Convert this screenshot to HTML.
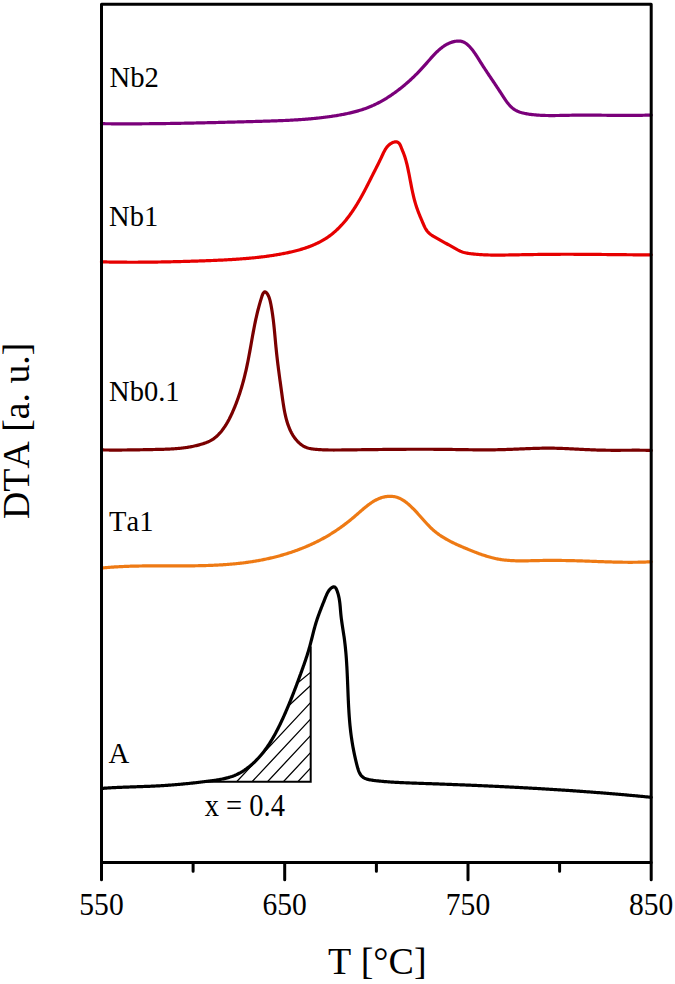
<!DOCTYPE html>
<html><head><meta charset="utf-8"><style>
html,body{margin:0;padding:0;background:#fff;}
body{width:675px;height:984px;overflow:hidden;}
svg{display:block;}
text{font-family:"Liberation Serif", serif;fill:#000;font-kerning:none;}
</style></head><body>
<svg width="675" height="984" viewBox="0 0 675 984">
<defs><clipPath id="hc"><path d="M200,781.8 L200.0,782.4 C201.7,782.1 206.7,781.3 210.0,780.8 C213.3,780.3 216.7,779.8 220.0,779.2 C223.3,778.6 226.7,777.9 230.0,777.0 C233.3,776.1 237.5,775.1 240.0,773.9 C242.5,772.7 243.3,771.4 245.0,770.0 C246.7,768.6 248.3,767.0 250.0,765.5 C251.7,764.0 253.3,762.8 255.0,761.2 C256.7,759.6 258.3,757.9 260.0,756.1 C261.7,754.3 263.3,752.6 265.0,750.4 C266.7,748.2 268.3,745.7 270.0,743.1 C271.7,740.5 273.3,738.1 275.0,735.0 C276.7,731.9 278.3,728.1 280.0,724.4 C281.7,720.7 283.6,716.2 285.0,713.0 C286.4,709.8 287.6,707.2 288.6,705.0 C289.6,702.8 290.3,702.5 291.2,700.0 C292.1,697.5 293.3,692.5 294.2,690.0 C295.1,687.5 295.6,686.8 296.3,685.0 C297.0,683.2 297.6,680.7 298.3,679.0 C299.1,677.3 300.0,676.5 300.8,675.0 C301.6,673.5 302.1,672.5 302.9,670.0 C303.7,667.5 304.8,662.5 305.4,660.0 C306.0,657.5 306.1,656.7 306.6,655.0 C307.1,653.3 307.8,651.4 308.5,650.0 C309.2,648.6 310.3,647.1 310.7,646.5 L310.7,781.8 Z"/></clipPath></defs>
<g fill="none" stroke-linejoin="round" stroke-linecap="round">
<path d="M101.50,123.69 L102.51,123.70 L103.51,123.71 L104.51,123.72 L105.51,123.73 L106.52,123.74 L107.52,123.75 L108.52,123.76 L109.53,123.76 L110.53,123.77 L111.53,123.78 L112.53,123.78 L113.54,123.79 L114.54,123.80 L115.54,123.80 L116.54,123.80 L117.54,123.81 L118.55,123.81 L119.55,123.81 L120.55,123.82 L121.55,123.82 L122.55,123.82 L123.56,123.82 L124.56,123.82 L125.56,123.82 L126.56,123.82 L127.56,123.82 L128.57,123.82 L129.57,123.82 L130.57,123.82 L131.57,123.82 L132.57,123.82 L133.57,123.81 L134.57,123.81 L135.58,123.81 L136.58,123.80 L137.58,123.80 L138.58,123.79 L139.58,123.79 L140.58,123.78 L141.58,123.78 L142.59,123.77 L143.59,123.76 L144.59,123.76 L145.59,123.75 L146.59,123.74 L147.59,123.73 L148.59,123.73 L149.59,123.72 L150.59,123.71 L151.59,123.70 L152.60,123.69 L153.60,123.68 L154.60,123.67 L155.60,123.66 L156.60,123.65 L157.60,123.64 L158.60,123.62 L159.60,123.61 L160.60,123.60 L161.60,123.59 L162.60,123.57 L163.60,123.56 L164.60,123.55 L165.61,123.53 L166.61,123.52 L167.61,123.50 L168.61,123.49 L169.61,123.48 L170.61,123.46 L171.61,123.44 L172.61,123.43 L173.61,123.41 L174.61,123.40 L175.61,123.38 L176.61,123.36 L177.61,123.35 L178.61,123.33 L179.61,123.31 L180.61,123.29 L181.62,123.27 L182.62,123.26 L183.62,123.24 L184.62,123.22 L185.62,123.20 L186.62,123.18 L187.62,123.16 L188.62,123.14 L189.62,123.12 L190.62,123.10 L191.62,123.08 L192.62,123.06 L193.62,123.04 L194.62,123.02 L195.62,122.99 L196.62,122.97 L197.62,122.95 L198.63,122.93 L199.63,122.91 L200.63,122.88 L201.63,122.86 L202.63,122.84 L203.63,122.82 L204.63,122.79 L205.63,122.77 L206.63,122.75 L207.63,122.72 L208.63,122.70 L209.63,122.68 L210.63,122.65 L211.63,122.63 L212.64,122.60 L213.64,122.58 L214.64,122.55 L215.64,122.53 L216.64,122.50 L217.64,122.48 L218.64,122.45 L219.64,122.43 L220.64,122.40 L221.64,122.38 L222.65,122.35 L223.65,122.32 L224.65,122.30 L225.65,122.27 L226.65,122.25 L227.65,122.22 L228.65,122.19 L229.65,122.17 L230.66,122.14 L231.66,122.11 L232.66,122.09 L233.66,122.06 L234.66,122.03 L235.66,122.00 L236.67,121.98 L237.67,121.95 L238.67,121.92 L239.67,121.90 L240.67,121.87 L241.67,121.84 L242.68,121.81 L243.68,121.78 L244.68,121.76 L245.68,121.73 L246.68,121.70 L247.69,121.67 L248.69,121.65 L249.69,121.62 L250.69,121.59 L251.69,121.56 L252.70,121.53 L253.70,121.50 L254.70,121.48 L255.70,121.45 L256.71,121.42 L257.71,121.39 L258.71,121.36 L259.71,121.33 L260.72,121.31 L261.72,121.28 L262.72,121.25 L263.73,121.22 L264.73,121.19 L265.73,121.16 L266.73,121.13 L267.74,121.10 L268.74,121.07 L269.74,121.04 L270.75,121.01 L271.75,120.97 L272.75,120.94 L273.75,120.91 L274.76,120.87 L275.76,120.84 L276.76,120.80 L277.77,120.76 L278.77,120.72 L279.77,120.69 L280.77,120.65 L281.77,120.60 L282.78,120.56 L283.78,120.52 L284.78,120.48 L285.78,120.43 L286.78,120.38 L287.79,120.34 L288.79,120.29 L289.79,120.24 L290.79,120.18 L291.79,120.13 L292.79,120.08 L293.79,120.02 L294.80,119.96 L295.80,119.90 L296.80,119.84 L297.80,119.78 L298.80,119.71 L299.80,119.65 L300.80,119.58 L301.80,119.51 L302.80,119.44 L303.79,119.36 L304.79,119.29 L305.79,119.21 L306.79,119.13 L307.79,119.05 L308.79,118.96 L309.78,118.88 L310.78,118.79 L311.78,118.70 L312.78,118.60 L313.77,118.51 L314.77,118.41 L315.77,118.31 L316.76,118.20 L317.76,118.10 L318.75,117.99 L319.75,117.88 L320.74,117.77 L321.74,117.65 L322.73,117.53 L323.73,117.41 L324.72,117.28 L325.71,117.16 L326.71,117.03 L327.70,116.89 L328.69,116.76 L329.68,116.62 L330.67,116.47 L331.66,116.33 L332.66,116.18 L333.65,116.03 L334.64,115.87 L335.63,115.71 L336.61,115.55 L337.60,115.39 L338.59,115.22 L339.58,115.04 L340.57,114.87 L341.55,114.69 L342.54,114.50 L343.52,114.31 L344.51,114.12 L345.49,113.92 L346.47,113.72 L347.45,113.51 L348.43,113.30 L349.41,113.08 L350.39,112.86 L351.36,112.63 L352.34,112.40 L353.31,112.15 L354.28,111.91 L355.25,111.65 L356.21,111.39 L357.18,111.13 L358.14,110.85 L359.10,110.57 L360.05,110.28 L361.01,109.99 L361.96,109.68 L362.91,109.37 L363.86,109.05 L364.80,108.73 L365.74,108.39 L366.68,108.05 L367.61,107.69 L368.54,107.33 L369.47,106.96 L370.39,106.58 L371.32,106.19 L372.23,105.79 L373.15,105.39 L374.06,104.97 L374.96,104.54 L375.87,104.11 L376.76,103.67 L377.66,103.21 L378.55,102.75 L379.44,102.29 L380.32,101.81 L381.20,101.33 L382.08,100.84 L382.95,100.34 L383.82,99.83 L384.68,99.32 L385.54,98.80 L386.40,98.28 L387.25,97.74 L388.10,97.21 L388.94,96.66 L389.78,96.11 L390.62,95.56 L391.45,94.99 L392.27,94.43 L393.10,93.86 L393.91,93.28 L394.73,92.70 L395.54,92.11 L396.34,91.52 L397.14,90.93 L397.94,90.33 L398.73,89.72 L399.52,89.12 L400.30,88.51 L401.08,87.89 L401.85,87.27 L402.62,86.65 L403.39,86.03 L404.15,85.40 L404.91,84.76 L405.66,84.12 L406.41,83.48 L407.16,82.83 L407.90,82.18 L408.64,81.53 L409.37,80.87 L410.11,80.20 L410.84,79.53 L411.56,78.86 L412.28,78.18 L413.00,77.50 L413.72,76.81 L414.43,76.12 L415.14,75.43 L415.85,74.72 L416.56,74.02 L417.26,73.31 L417.96,72.59 L418.66,71.87 L419.35,71.15 L420.05,70.42 L420.74,69.68 L421.43,68.94 L422.11,68.19 L422.80,67.44 L423.48,66.69 L424.16,65.93 L424.84,65.16 L425.52,64.39 L426.20,63.61 L426.87,62.84 L427.55,62.06 L428.23,61.28 L428.91,60.50 L429.59,59.72 L430.27,58.94 L430.95,58.17 L431.64,57.40 L432.33,56.64 L433.02,55.88 L433.72,55.13 L434.42,54.39 L435.13,53.66 L435.84,52.93 L436.56,52.22 L437.29,51.52 L438.02,50.84 L438.76,50.17 L439.51,49.51 L440.26,48.87 L441.03,48.25 L441.80,47.64 L442.58,47.05 L443.38,46.49 L444.18,45.94 L445.00,45.42 L445.82,44.92 L446.66,44.44 L447.51,43.99 L448.38,43.56 L449.26,43.16 L450.15,42.79 L451.05,42.45 L451.97,42.14 L452.91,41.86 L453.86,41.61 L454.81,41.40 L455.78,41.23 L456.74,41.11 L457.71,41.04 L458.67,41.02 L459.62,41.06 L460.55,41.17 L461.47,41.34 L462.37,41.58 L463.24,41.90 L464.09,42.29 L464.91,42.74 L465.72,43.25 L466.50,43.81 L467.26,44.42 L468.00,45.07 L468.72,45.75 L469.43,46.47 L470.12,47.21 L470.79,47.97 L471.44,48.74 L472.08,49.53 L472.71,50.34 L473.33,51.15 L473.93,51.98 L474.52,52.81 L475.10,53.66 L475.68,54.51 L476.24,55.37 L476.80,56.23 L477.35,57.09 L477.90,57.96 L478.45,58.83 L478.99,59.70 L479.53,60.56 L480.07,61.42 L480.61,62.28 L481.14,63.13 L481.68,63.98 L482.22,64.83 L482.76,65.67 L483.30,66.51 L483.84,67.34 L484.39,68.17 L484.93,69.00 L485.47,69.82 L486.01,70.65 L486.55,71.47 L487.10,72.29 L487.64,73.10 L488.18,73.92 L488.73,74.74 L489.27,75.55 L489.82,76.37 L490.37,77.18 L490.91,77.99 L491.46,78.81 L492.01,79.62 L492.56,80.44 L493.11,81.26 L493.66,82.08 L494.21,82.90 L494.76,83.72 L495.31,84.54 L495.86,85.37 L496.41,86.20 L496.97,87.03 L497.52,87.87 L498.08,88.71 L498.63,89.55 L499.19,90.40 L499.75,91.25 L500.31,92.11 L500.87,92.97 L501.43,93.84 L501.99,94.71 L502.55,95.59 L503.11,96.46 L503.68,97.34 L504.26,98.21 L504.84,99.08 L505.43,99.94 L506.02,100.79 L506.63,101.63 L507.24,102.45 L507.87,103.25 L508.51,104.04 L509.17,104.81 L509.84,105.55 L510.53,106.26 L511.23,106.95 L511.95,107.61 L512.69,108.23 L513.45,108.82 L514.24,109.37 L515.04,109.89 L515.87,110.36 L516.72,110.81 L517.58,111.21 L518.46,111.59 L519.36,111.94 L520.27,112.26 L521.20,112.56 L522.13,112.83 L523.08,113.07 L524.04,113.30 L525.01,113.51 L525.98,113.69 L526.96,113.87 L527.95,114.03 L528.93,114.18 L529.93,114.31 L530.92,114.44 L531.91,114.56 L532.90,114.67 L533.90,114.77 L534.89,114.87 L535.89,114.96 L536.88,115.04 L537.88,115.11 L538.88,115.18 L539.88,115.24 L540.88,115.29 L541.88,115.34 L542.88,115.38 L543.88,115.42 L544.88,115.45 L545.88,115.48 L546.89,115.50 L547.89,115.52 L548.89,115.53 L549.90,115.54 L550.90,115.54 L551.91,115.55 L552.91,115.54 L553.92,115.54 L554.92,115.53 L555.93,115.52 L556.93,115.51 L557.94,115.50 L558.95,115.48 L559.95,115.46 L560.96,115.44 L561.96,115.42 L562.97,115.40 L563.98,115.38 L564.98,115.36 L565.99,115.34 L567.00,115.32 L568.00,115.30 L569.01,115.28 L570.01,115.26 L571.02,115.24 L572.02,115.22 L573.03,115.21 L574.03,115.19 L575.04,115.18 L576.04,115.17 L577.05,115.16 L578.05,115.15 L579.05,115.15 L580.06,115.14 L581.06,115.14 L582.06,115.13 L583.07,115.13 L584.07,115.13 L585.07,115.13 L586.07,115.13 L587.08,115.13 L588.08,115.13 L589.08,115.14 L590.08,115.14 L591.08,115.14 L592.09,115.15 L593.09,115.15 L594.09,115.16 L595.09,115.17 L596.09,115.18 L597.09,115.18 L598.09,115.19 L599.09,115.20 L600.10,115.21 L601.10,115.22 L602.10,115.23 L603.10,115.24 L604.10,115.25 L605.10,115.26 L606.10,115.27 L607.10,115.28 L608.10,115.29 L609.10,115.30 L610.10,115.31 L611.10,115.32 L612.10,115.33 L613.11,115.34 L614.11,115.34 L615.11,115.35 L616.11,115.36 L617.11,115.37 L618.11,115.38 L619.11,115.38 L620.11,115.39 L621.11,115.39 L622.12,115.40 L623.12,115.40 L624.12,115.41 L625.12,115.41 L626.12,115.41 L627.12,115.41 L628.13,115.41 L629.13,115.41 L630.13,115.41 L631.13,115.40 L632.14,115.40 L633.14,115.39 L634.14,115.39 L635.15,115.38 L636.15,115.37 L637.15,115.36 L638.16,115.35 L639.16,115.33 L640.17,115.32 L641.17,115.30 L642.18,115.29 L643.18,115.27 L644.19,115.25 L645.19,115.22 L646.20,115.20 L647.20,115.17 L648.21,115.15 L649.22,115.12 L650.23,115.08 L651.23,115.05" stroke="#7a007a" stroke-width="3.2"/>
<path d="M101.44,261.85 L102.44,261.88 L103.45,261.90 L104.45,261.93 L105.46,261.95 L106.46,261.97 L107.46,261.99 L108.47,262.01 L109.47,262.03 L110.47,262.05 L111.48,262.06 L112.48,262.08 L113.48,262.10 L114.49,262.11 L115.49,262.13 L116.49,262.14 L117.49,262.15 L118.50,262.16 L119.50,262.17 L120.50,262.18 L121.50,262.19 L122.50,262.20 L123.51,262.21 L124.51,262.21 L125.51,262.22 L126.51,262.22 L127.51,262.23 L128.51,262.23 L129.52,262.23 L130.52,262.24 L131.52,262.24 L132.52,262.24 L133.52,262.24 L134.52,262.24 L135.52,262.23 L136.52,262.23 L137.52,262.23 L138.52,262.22 L139.52,262.22 L140.52,262.22 L141.52,262.21 L142.53,262.20 L143.53,262.20 L144.53,262.19 L145.53,262.18 L146.53,262.17 L147.53,262.16 L148.53,262.15 L149.53,262.14 L150.53,262.13 L151.53,262.12 L152.53,262.10 L153.53,262.09 L154.53,262.08 L155.53,262.06 L156.53,262.05 L157.53,262.03 L158.53,262.02 L159.53,262.00 L160.53,261.98 L161.53,261.96 L162.53,261.95 L163.53,261.93 L164.53,261.91 L165.53,261.89 L166.53,261.87 L167.53,261.85 L168.53,261.82 L169.53,261.80 L170.54,261.78 L171.54,261.76 L172.54,261.73 L173.54,261.71 L174.54,261.69 L175.54,261.66 L176.54,261.64 L177.54,261.61 L178.54,261.59 L179.55,261.56 L180.55,261.53 L181.55,261.51 L182.55,261.48 L183.55,261.45 L184.55,261.42 L185.56,261.39 L186.56,261.37 L187.56,261.34 L188.56,261.31 L189.56,261.28 L190.57,261.25 L191.57,261.22 L192.57,261.18 L193.58,261.15 L194.58,261.12 L195.58,261.09 L196.59,261.06 L197.59,261.03 L198.59,260.99 L199.60,260.96 L200.60,260.93 L201.60,260.89 L202.61,260.86 L203.61,260.82 L204.62,260.79 L205.62,260.75 L206.62,260.71 L207.63,260.68 L208.63,260.64 L209.64,260.60 L210.64,260.56 L211.64,260.52 L212.65,260.48 L213.65,260.44 L214.65,260.40 L215.66,260.35 L216.66,260.31 L217.66,260.26 L218.67,260.22 L219.67,260.17 L220.67,260.12 L221.67,260.08 L222.67,260.03 L223.68,259.98 L224.68,259.92 L225.68,259.87 L226.68,259.82 L227.68,259.76 L228.68,259.71 L229.68,259.65 L230.68,259.59 L231.68,259.53 L232.67,259.47 L233.67,259.41 L234.67,259.34 L235.67,259.28 L236.66,259.21 L237.66,259.14 L238.65,259.07 L239.65,259.00 L240.64,258.93 L241.64,258.86 L242.63,258.78 L243.62,258.70 L244.62,258.62 L245.61,258.54 L246.60,258.46 L247.59,258.38 L248.58,258.29 L249.57,258.20 L250.56,258.11 L251.55,258.02 L252.54,257.92 L253.53,257.82 L254.52,257.73 L255.51,257.62 L256.50,257.52 L257.49,257.41 L258.48,257.30 L259.46,257.19 L260.45,257.08 L261.44,256.96 L262.43,256.84 L263.41,256.72 L264.40,256.59 L265.39,256.47 L266.38,256.33 L267.36,256.20 L268.35,256.06 L269.34,255.92 L270.33,255.78 L271.31,255.63 L272.30,255.48 L273.29,255.33 L274.28,255.17 L275.26,255.01 L276.25,254.85 L277.24,254.68 L278.23,254.51 L279.22,254.34 L280.20,254.16 L281.19,253.98 L282.18,253.79 L283.17,253.60 L284.16,253.41 L285.15,253.21 L286.14,253.01 L287.13,252.81 L288.12,252.60 L289.11,252.38 L290.10,252.16 L291.09,251.94 L292.08,251.71 L293.07,251.47 L294.05,251.23 L295.04,250.99 L296.02,250.74 L297.00,250.48 L297.98,250.22 L298.96,249.95 L299.93,249.67 L300.91,249.39 L301.88,249.10 L302.84,248.80 L303.81,248.50 L304.77,248.19 L305.73,247.87 L306.68,247.54 L307.63,247.21 L308.58,246.87 L309.52,246.52 L310.46,246.16 L311.39,245.79 L312.32,245.42 L313.24,245.04 L314.16,244.64 L315.08,244.24 L315.99,243.83 L316.89,243.41 L317.79,242.98 L318.68,242.54 L319.57,242.09 L320.44,241.63 L321.32,241.16 L322.18,240.68 L323.04,240.19 L323.90,239.68 L324.74,239.17 L325.58,238.65 L326.41,238.11 L327.23,237.56 L328.05,237.00 L328.86,236.43 L329.66,235.85 L330.45,235.26 L331.23,234.66 L332.01,234.04 L332.78,233.42 L333.54,232.79 L334.29,232.14 L335.04,231.49 L335.78,230.83 L336.51,230.16 L337.24,229.47 L337.96,228.78 L338.67,228.09 L339.37,227.38 L340.07,226.67 L340.76,225.94 L341.44,225.21 L342.12,224.48 L342.79,223.73 L343.45,222.98 L344.11,222.22 L344.76,221.45 L345.40,220.68 L346.04,219.90 L346.67,219.12 L347.29,218.33 L347.91,217.54 L348.52,216.74 L349.12,215.93 L349.72,215.12 L350.32,214.31 L350.90,213.49 L351.48,212.66 L352.06,211.84 L352.63,211.00 L353.19,210.17 L353.75,209.33 L354.30,208.49 L354.84,207.65 L355.39,206.80 L355.92,205.95 L356.45,205.10 L356.98,204.24 L357.50,203.38 L358.01,202.52 L358.52,201.66 L359.03,200.80 L359.53,199.93 L360.03,199.06 L360.52,198.19 L361.01,197.32 L361.50,196.44 L361.99,195.56 L362.47,194.69 L362.94,193.81 L363.42,192.92 L363.89,192.04 L364.36,191.16 L364.83,190.27 L365.29,189.38 L365.75,188.50 L366.21,187.61 L366.67,186.72 L367.13,185.83 L367.59,184.94 L368.04,184.05 L368.49,183.15 L368.94,182.26 L369.40,181.37 L369.85,180.47 L370.30,179.58 L370.75,178.69 L371.19,177.79 L371.64,176.90 L372.09,176.01 L372.54,175.11 L372.99,174.22 L373.44,173.33 L373.89,172.44 L374.35,171.55 L374.80,170.66 L375.25,169.76 L375.71,168.87 L376.16,167.98 L376.61,167.09 L377.06,166.20 L377.51,165.31 L377.96,164.41 L378.40,163.52 L378.85,162.62 L379.29,161.72 L379.73,160.82 L380.17,159.92 L380.60,159.01 L381.03,158.11 L381.46,157.20 L381.88,156.29 L382.30,155.37 L382.72,154.46 L383.15,153.55 L383.58,152.65 L384.02,151.76 L384.49,150.89 L384.97,150.03 L385.47,149.18 L386.00,148.37 L386.57,147.58 L387.16,146.81 L387.80,146.08 L388.48,145.39 L389.20,144.73 L389.98,144.12 L390.80,143.55 L391.69,143.03 L392.63,142.57 L393.60,142.19 L394.59,141.92 L395.55,141.79 L396.48,141.82 L397.35,142.05 L398.15,142.48 L398.86,143.09 L399.48,143.83 L400.02,144.68 L400.48,145.59 L400.89,146.55 L401.26,147.52 L401.63,148.48 L402.01,149.42 L402.39,150.35 L402.78,151.26 L403.15,152.17 L403.51,153.09 L403.86,154.02 L404.20,154.95 L404.52,155.88 L404.83,156.82 L405.13,157.77 L405.42,158.72 L405.70,159.67 L405.97,160.63 L406.23,161.59 L406.48,162.55 L406.73,163.52 L406.97,164.49 L407.20,165.46 L407.42,166.43 L407.64,167.41 L407.86,168.39 L408.07,169.37 L408.27,170.35 L408.47,171.33 L408.67,172.31 L408.87,173.30 L409.07,174.28 L409.26,175.27 L409.45,176.25 L409.64,177.24 L409.83,178.22 L410.01,179.21 L410.20,180.19 L410.39,181.18 L410.58,182.17 L410.77,183.15 L410.95,184.14 L411.15,185.12 L411.34,186.11 L411.53,187.09 L411.73,188.08 L411.93,189.06 L412.13,190.04 L412.34,191.02 L412.55,192.00 L412.76,192.98 L412.98,193.96 L413.20,194.93 L413.43,195.91 L413.66,196.88 L413.90,197.85 L414.15,198.82 L414.40,199.79 L414.66,200.75 L414.93,201.72 L415.20,202.68 L415.48,203.63 L415.77,204.59 L416.07,205.54 L416.37,206.49 L416.69,207.44 L417.02,208.39 L417.35,209.33 L417.69,210.27 L418.04,211.21 L418.40,212.14 L418.76,213.07 L419.13,214.01 L419.50,214.94 L419.88,215.86 L420.26,216.79 L420.65,217.71 L421.04,218.64 L421.43,219.56 L421.82,220.48 L422.21,221.40 L422.61,222.32 L423.01,223.24 L423.40,224.16 L423.80,225.07 L424.21,225.98 L424.63,226.88 L425.07,227.76 L425.53,228.62 L426.03,229.46 L426.56,230.28 L427.13,231.06 L427.75,231.80 L428.41,232.51 L429.12,233.19 L429.87,233.83 L430.65,234.45 L431.46,235.04 L432.30,235.61 L433.15,236.16 L434.02,236.69 L434.90,237.21 L435.78,237.73 L436.66,238.23 L437.54,238.73 L438.41,239.22 L439.29,239.71 L440.16,240.20 L441.03,240.68 L441.91,241.16 L442.78,241.63 L443.65,242.11 L444.52,242.58 L445.39,243.06 L446.26,243.53 L447.13,244.01 L448.00,244.49 L448.87,244.96 L449.75,245.44 L450.62,245.93 L451.50,246.42 L452.37,246.91 L453.25,247.41 L454.13,247.91 L455.02,248.41 L455.90,248.91 L456.80,249.41 L457.69,249.89 L458.60,250.35 L459.51,250.79 L460.42,251.20 L461.35,251.58 L462.29,251.92 L463.23,252.22 L464.18,252.49 L465.14,252.73 L466.11,252.95 L467.08,253.14 L468.05,253.31 L469.03,253.46 L470.02,253.60 L471.00,253.72 L471.99,253.84 L472.97,253.95 L473.96,254.06 L474.95,254.16 L475.94,254.25 L476.93,254.34 L477.92,254.42 L478.92,254.50 L479.91,254.57 L480.90,254.64 L481.90,254.70 L482.89,254.75 L483.89,254.80 L484.89,254.85 L485.88,254.89 L486.88,254.93 L487.88,254.96 L488.88,254.99 L489.88,255.01 L490.88,255.03 L491.88,255.05 L492.88,255.07 L493.89,255.08 L494.89,255.09 L495.89,255.09 L496.89,255.09 L497.90,255.09 L498.90,255.09 L499.90,255.09 L500.91,255.08 L501.91,255.07 L502.91,255.06 L503.92,255.05 L504.92,255.04 L505.93,255.02 L506.93,255.00 L507.94,254.99 L508.94,254.97 L509.95,254.95 L510.95,254.93 L511.95,254.91 L512.96,254.89 L513.96,254.87 L514.97,254.85 L515.97,254.83 L516.97,254.82 L517.98,254.80 L518.98,254.78 L519.98,254.76 L520.99,254.74 L521.99,254.72 L522.99,254.70 L523.99,254.69 L525.00,254.67 L526.00,254.65 L527.00,254.64 L528.00,254.62 L529.00,254.60 L530.01,254.59 L531.01,254.57 L532.01,254.55 L533.01,254.54 L534.01,254.52 L535.01,254.51 L536.01,254.50 L537.01,254.48 L538.02,254.47 L539.02,254.46 L540.02,254.44 L541.02,254.43 L542.02,254.42 L543.02,254.41 L544.02,254.40 L545.02,254.38 L546.02,254.37 L547.02,254.36 L548.02,254.35 L549.02,254.35 L550.02,254.34 L551.02,254.33 L552.03,254.32 L553.03,254.31 L554.03,254.31 L555.03,254.30 L556.03,254.30 L557.03,254.29 L558.03,254.29 L559.03,254.28 L560.03,254.28 L561.03,254.27 L562.03,254.27 L563.04,254.27 L564.04,254.27 L565.04,254.27 L566.04,254.27 L567.04,254.27 L568.04,254.27 L569.04,254.27 L570.04,254.27 L571.05,254.27 L572.05,254.27 L573.05,254.27 L574.05,254.28 L575.05,254.28 L576.05,254.28 L577.06,254.29 L578.06,254.29 L579.06,254.30 L580.06,254.30 L581.06,254.31 L582.07,254.31 L583.07,254.32 L584.07,254.33 L585.07,254.33 L586.07,254.34 L587.08,254.35 L588.08,254.35 L589.08,254.36 L590.08,254.37 L591.09,254.38 L592.09,254.39 L593.09,254.39 L594.09,254.40 L595.09,254.41 L596.10,254.42 L597.10,254.43 L598.10,254.44 L599.10,254.45 L600.11,254.46 L601.11,254.47 L602.11,254.48 L603.11,254.49 L604.11,254.50 L605.12,254.51 L606.12,254.52 L607.12,254.53 L608.12,254.54 L609.13,254.55 L610.13,254.56 L611.13,254.57 L612.13,254.58 L613.14,254.59 L614.14,254.60 L615.14,254.61 L616.14,254.62 L617.14,254.63 L618.15,254.64 L619.15,254.65 L620.15,254.66 L621.15,254.67 L622.15,254.68 L623.16,254.69 L624.16,254.70 L625.16,254.71 L626.16,254.72 L627.16,254.73 L628.16,254.74 L629.17,254.75 L630.17,254.76 L631.17,254.76 L632.17,254.77 L633.17,254.78 L634.17,254.79 L635.18,254.79 L636.18,254.80 L637.18,254.81 L638.18,254.82 L639.18,254.82 L640.18,254.83 L641.18,254.83 L642.18,254.84 L643.18,254.84 L644.19,254.85 L645.19,254.85 L646.19,254.86 L647.19,254.86 L648.19,254.86 L649.19,254.87 L650.19,254.87 L651.19,254.87" stroke="#e60000" stroke-width="3.2"/>
<path d="M101.49,449.94 L102.49,449.95 L103.50,449.97 L104.50,449.98 L105.50,450.00 L106.51,450.01 L107.51,450.02 L108.51,450.02 L109.51,450.03 L110.52,450.04 L111.52,450.04 L112.52,450.05 L113.52,450.05 L114.52,450.05 L115.53,450.05 L116.53,450.05 L117.53,450.05 L118.53,450.04 L119.53,450.04 L120.53,450.03 L121.53,450.03 L122.53,450.02 L123.53,450.01 L124.53,450.00 L125.54,449.99 L126.54,449.98 L127.54,449.97 L128.54,449.96 L129.54,449.95 L130.54,449.93 L131.54,449.92 L132.54,449.91 L133.54,449.89 L134.54,449.88 L135.54,449.86 L136.54,449.84 L137.54,449.83 L138.54,449.81 L139.54,449.79 L140.54,449.77 L141.54,449.75 L142.54,449.73 L143.54,449.71 L144.55,449.69 L145.55,449.67 L146.55,449.65 L147.55,449.63 L148.55,449.61 L149.55,449.59 L150.55,449.57 L151.56,449.55 L152.56,449.53 L153.56,449.51 L154.56,449.49 L155.56,449.47 L156.57,449.45 L157.57,449.43 L158.57,449.41 L159.58,449.38 L160.58,449.36 L161.58,449.33 L162.58,449.31 L163.59,449.28 L164.59,449.25 L165.59,449.21 L166.59,449.18 L167.59,449.14 L168.60,449.09 L169.60,449.05 L170.60,449.00 L171.60,448.94 L172.60,448.88 L173.59,448.82 L174.59,448.75 L175.59,448.68 L176.59,448.60 L177.58,448.52 L178.58,448.43 L179.57,448.33 L180.57,448.23 L181.56,448.12 L182.55,448.01 L183.54,447.89 L184.53,447.76 L185.52,447.62 L186.51,447.48 L187.50,447.33 L188.48,447.17 L189.46,447.00 L190.45,446.82 L191.43,446.64 L192.41,446.45 L193.39,446.24 L194.37,446.03 L195.34,445.81 L196.31,445.58 L197.29,445.34 L198.26,445.09 L199.23,444.84 L200.19,444.57 L201.16,444.29 L202.12,443.99 L203.08,443.69 L204.04,443.38 L205.00,443.05 L205.94,442.71 L206.88,442.34 L207.81,441.96 L208.73,441.56 L209.63,441.13 L210.52,440.68 L211.39,440.20 L212.24,439.69 L213.08,439.15 L213.89,438.58 L214.68,437.98 L215.46,437.36 L216.22,436.72 L216.96,436.05 L217.68,435.36 L218.38,434.66 L219.07,433.93 L219.75,433.19 L220.40,432.44 L221.05,431.67 L221.68,430.90 L222.29,430.11 L222.89,429.31 L223.48,428.51 L224.06,427.69 L224.62,426.87 L225.17,426.04 L225.71,425.20 L226.24,424.35 L226.75,423.49 L227.26,422.63 L227.76,421.77 L228.24,420.89 L228.72,420.01 L229.19,419.13 L229.64,418.24 L230.09,417.34 L230.54,416.44 L230.97,415.54 L231.40,414.63 L231.82,413.72 L232.23,412.80 L232.64,411.89 L233.04,410.97 L233.44,410.05 L233.83,409.13 L234.22,408.20 L234.60,407.28 L234.98,406.35 L235.35,405.42 L235.72,404.49 L236.08,403.56 L236.43,402.62 L236.79,401.69 L237.14,400.75 L237.48,399.81 L237.82,398.87 L238.15,397.93 L238.48,396.99 L238.81,396.04 L239.13,395.09 L239.44,394.15 L239.75,393.20 L240.06,392.25 L240.37,391.30 L240.67,390.34 L240.96,389.39 L241.25,388.43 L241.54,387.47 L241.82,386.52 L242.10,385.56 L242.38,384.60 L242.65,383.63 L242.92,382.67 L243.18,381.71 L243.44,380.74 L243.70,379.77 L243.95,378.81 L244.20,377.84 L244.44,376.87 L244.69,375.90 L244.93,374.93 L245.16,373.95 L245.39,372.98 L245.62,372.00 L245.85,371.03 L246.07,370.05 L246.29,369.07 L246.51,368.09 L246.72,367.12 L246.93,366.13 L247.14,365.15 L247.34,364.17 L247.54,363.19 L247.74,362.21 L247.94,361.22 L248.14,360.24 L248.33,359.25 L248.52,358.27 L248.71,357.28 L248.90,356.30 L249.08,355.31 L249.27,354.32 L249.45,353.33 L249.63,352.35 L249.81,351.36 L249.99,350.37 L250.17,349.38 L250.34,348.40 L250.52,347.41 L250.70,346.42 L250.87,345.43 L251.05,344.44 L251.22,343.46 L251.40,342.47 L251.57,341.48 L251.75,340.50 L251.92,339.51 L252.10,338.52 L252.28,337.54 L252.45,336.55 L252.63,335.57 L252.81,334.58 L252.99,333.60 L253.17,332.62 L253.35,331.64 L253.54,330.65 L253.72,329.67 L253.91,328.69 L254.10,327.72 L254.29,326.74 L254.48,325.76 L254.68,324.78 L254.87,323.81 L255.07,322.84 L255.27,321.86 L255.48,320.89 L255.69,319.92 L255.90,318.95 L256.11,317.98 L256.33,317.02 L256.54,316.05 L256.77,315.08 L256.99,314.12 L257.23,313.15 L257.46,312.18 L257.70,311.22 L257.94,310.25 L258.19,309.27 L258.45,308.30 L258.70,307.32 L258.97,306.35 L259.24,305.37 L259.51,304.38 L259.79,303.39 L260.08,302.40 L260.37,301.41 L260.67,300.41 L260.98,299.40 L261.29,298.40 L261.61,297.38 L261.94,296.36 L262.28,295.35 L262.64,294.39 L263.05,293.52 L263.51,292.79 L264.04,292.24 L264.63,291.91 L265.24,291.88 L265.86,292.15 L266.46,292.68 L267.04,293.40 L267.58,294.24 L268.07,295.13 L268.52,296.05 L268.91,296.98 L269.27,297.93 L269.58,298.88 L269.86,299.85 L270.12,300.83 L270.35,301.81 L270.56,302.79 L270.76,303.78 L270.96,304.77 L271.14,305.76 L271.32,306.75 L271.50,307.75 L271.67,308.74 L271.83,309.73 L271.99,310.72 L272.15,311.71 L272.30,312.70 L272.45,313.70 L272.59,314.69 L272.73,315.68 L272.86,316.68 L272.99,317.67 L273.12,318.66 L273.25,319.66 L273.37,320.65 L273.48,321.64 L273.60,322.64 L273.71,323.63 L273.82,324.63 L273.93,325.62 L274.03,326.61 L274.14,327.61 L274.24,328.60 L274.34,329.60 L274.43,330.59 L274.53,331.59 L274.63,332.58 L274.72,333.58 L274.81,334.57 L274.91,335.57 L275.00,336.57 L275.09,337.56 L275.18,338.56 L275.27,339.55 L275.36,340.55 L275.46,341.54 L275.55,342.54 L275.64,343.53 L275.73,344.53 L275.83,345.53 L275.92,346.52 L276.02,347.52 L276.12,348.51 L276.22,349.51 L276.32,350.51 L276.42,351.50 L276.53,352.50 L276.63,353.49 L276.74,354.49 L276.85,355.48 L276.96,356.48 L277.08,357.48 L277.19,358.47 L277.31,359.47 L277.42,360.46 L277.54,361.46 L277.66,362.45 L277.78,363.45 L277.90,364.44 L278.03,365.44 L278.15,366.43 L278.28,367.43 L278.40,368.42 L278.53,369.42 L278.66,370.41 L278.79,371.41 L278.92,372.40 L279.05,373.40 L279.18,374.39 L279.31,375.38 L279.45,376.38 L279.58,377.37 L279.71,378.36 L279.85,379.36 L279.98,380.35 L280.12,381.34 L280.26,382.33 L280.39,383.33 L280.53,384.32 L280.67,385.31 L280.80,386.30 L280.94,387.29 L281.08,388.29 L281.22,389.28 L281.35,390.27 L281.49,391.26 L281.63,392.25 L281.77,393.24 L281.90,394.23 L282.04,395.22 L282.18,396.21 L282.31,397.20 L282.45,398.19 L282.59,399.17 L282.73,400.16 L282.87,401.15 L283.01,402.14 L283.16,403.12 L283.31,404.11 L283.46,405.09 L283.62,406.08 L283.78,407.06 L283.94,408.05 L284.12,409.03 L284.29,410.01 L284.48,410.99 L284.67,411.97 L284.87,412.95 L285.07,413.93 L285.29,414.91 L285.51,415.89 L285.74,416.86 L285.99,417.84 L286.24,418.81 L286.50,419.79 L286.77,420.76 L287.06,421.73 L287.36,422.69 L287.67,423.66 L287.99,424.62 L288.32,425.57 L288.67,426.52 L289.04,427.46 L289.42,428.39 L289.82,429.32 L290.23,430.24 L290.65,431.14 L291.10,432.04 L291.56,432.93 L292.04,433.80 L292.54,434.67 L293.06,435.52 L293.60,436.35 L294.16,437.18 L294.73,437.98 L295.33,438.77 L295.95,439.55 L296.60,440.30 L297.26,441.04 L297.95,441.76 L298.66,442.46 L299.39,443.13 L300.15,443.78 L300.92,444.39 L301.72,444.98 L302.54,445.53 L303.38,446.04 L304.24,446.51 L305.13,446.95 L306.03,447.34 L306.95,447.68 L307.89,447.98 L308.85,448.24 L309.82,448.47 L310.81,448.67 L311.80,448.83 L312.80,448.98 L313.81,449.11 L314.82,449.22 L315.83,449.32 L316.84,449.41 L317.84,449.49 L318.85,449.57 L319.86,449.64 L320.86,449.70 L321.87,449.76 L322.88,449.81 L323.88,449.85 L324.88,449.89 L325.89,449.92 L326.89,449.95 L327.89,449.97 L328.89,449.99 L329.90,450.00 L330.90,450.01 L331.90,450.02 L332.90,450.02 L333.90,450.03 L334.90,450.02 L335.90,450.02 L336.90,450.01 L337.90,450.01 L338.90,450.00 L339.90,449.99 L340.90,449.98 L341.90,449.97 L342.90,449.95 L343.90,449.94 L344.90,449.93 L345.90,449.92 L346.90,449.91 L347.90,449.90 L348.90,449.88 L349.90,449.87 L350.90,449.86 L351.90,449.85 L352.90,449.83 L353.90,449.82 L354.90,449.81 L355.90,449.80 L356.90,449.78 L357.90,449.77 L358.90,449.76 L359.90,449.75 L360.90,449.73 L361.90,449.72 L362.90,449.71 L363.90,449.70 L364.90,449.68 L365.90,449.67 L366.90,449.66 L367.91,449.65 L368.91,449.63 L369.91,449.62 L370.91,449.61 L371.91,449.60 L372.91,449.59 L373.91,449.57 L374.91,449.56 L375.91,449.55 L376.91,449.54 L377.91,449.53 L378.91,449.52 L379.92,449.51 L380.92,449.49 L381.92,449.48 L382.92,449.47 L383.92,449.46 L384.92,449.45 L385.92,449.44 L386.92,449.43 L387.93,449.42 L388.93,449.41 L389.93,449.40 L390.93,449.39 L391.93,449.38 L392.93,449.37 L393.93,449.36 L394.93,449.36 L395.94,449.35 L396.94,449.34 L397.94,449.33 L398.94,449.32 L399.94,449.32 L400.94,449.31 L401.94,449.30 L402.95,449.30 L403.95,449.29 L404.95,449.28 L405.95,449.28 L406.95,449.27 L407.95,449.27 L408.96,449.26 L409.96,449.26 L410.96,449.26 L411.96,449.25 L412.96,449.25 L413.96,449.25 L414.96,449.24 L415.97,449.24 L416.97,449.24 L417.97,449.24 L418.97,449.24 L419.97,449.24 L420.97,449.24 L421.98,449.24 L422.98,449.24 L423.98,449.24 L424.98,449.24 L425.98,449.24 L426.98,449.25 L427.98,449.25 L428.99,449.25 L429.99,449.26 L430.99,449.26 L431.99,449.26 L432.99,449.27 L433.99,449.28 L434.99,449.28 L436.00,449.29 L437.00,449.30 L438.00,449.30 L439.00,449.31 L440.00,449.32 L441.00,449.33 L442.00,449.34 L443.01,449.35 L444.01,449.36 L445.01,449.37 L446.01,449.39 L447.01,449.40 L448.01,449.41 L449.01,449.43 L450.02,449.44 L451.02,449.45 L452.02,449.47 L453.02,449.48 L454.02,449.50 L455.02,449.52 L456.02,449.53 L457.02,449.55 L458.02,449.56 L459.03,449.58 L460.03,449.60 L461.03,449.61 L462.03,449.63 L463.03,449.64 L464.03,449.66 L465.03,449.67 L466.03,449.69 L467.03,449.70 L468.03,449.72 L469.04,449.73 L470.04,449.74 L471.04,449.76 L472.04,449.77 L473.04,449.78 L474.04,449.79 L475.04,449.80 L476.04,449.81 L477.04,449.82 L478.04,449.83 L479.05,449.83 L480.05,449.84 L481.05,449.84 L482.05,449.85 L483.05,449.85 L484.05,449.85 L485.05,449.85 L486.05,449.85 L487.05,449.85 L488.05,449.84 L489.05,449.84 L490.06,449.83 L491.06,449.82 L492.06,449.82 L493.06,449.80 L494.06,449.79 L495.06,449.78 L496.06,449.76 L497.06,449.74 L498.06,449.72 L499.06,449.70 L500.07,449.68 L501.07,449.65 L502.07,449.63 L503.07,449.60 L504.07,449.57 L505.07,449.54 L506.07,449.50 L507.07,449.47 L508.07,449.43 L509.07,449.40 L510.07,449.36 L511.08,449.32 L512.08,449.28 L513.08,449.24 L514.08,449.20 L515.08,449.16 L516.08,449.12 L517.08,449.07 L518.08,449.03 L519.08,448.99 L520.08,448.95 L521.09,448.91 L522.09,448.86 L523.09,448.82 L524.09,448.78 L525.09,448.74 L526.09,448.70 L527.09,448.66 L528.09,448.62 L529.09,448.58 L530.09,448.55 L531.10,448.51 L532.10,448.48 L533.10,448.44 L534.10,448.41 L535.10,448.38 L536.10,448.35 L537.10,448.32 L538.10,448.30 L539.10,448.28 L540.10,448.25 L541.10,448.24 L542.10,448.22 L543.11,448.20 L544.11,448.19 L545.11,448.18 L546.11,448.17 L547.11,448.17 L548.11,448.17 L549.11,448.17 L550.11,448.17 L551.11,448.18 L552.11,448.19 L553.11,448.21 L554.11,448.22 L555.11,448.24 L556.11,448.26 L557.11,448.29 L558.11,448.31 L559.11,448.34 L560.12,448.37 L561.12,448.41 L562.12,448.44 L563.12,448.48 L564.12,448.52 L565.12,448.56 L566.12,448.60 L567.12,448.64 L568.12,448.69 L569.12,448.73 L570.12,448.78 L571.12,448.83 L572.12,448.88 L573.12,448.93 L574.12,448.98 L575.12,449.03 L576.12,449.08 L577.12,449.13 L578.12,449.18 L579.12,449.23 L580.12,449.28 L581.12,449.33 L582.12,449.39 L583.13,449.44 L584.13,449.49 L585.13,449.53 L586.13,449.58 L587.13,449.63 L588.13,449.68 L589.13,449.72 L590.13,449.77 L591.13,449.81 L592.13,449.85 L593.13,449.89 L594.13,449.93 L595.13,449.97 L596.13,450.00 L597.13,450.04 L598.13,450.07 L599.13,450.10 L600.14,450.12 L601.14,450.15 L602.14,450.17 L603.14,450.19 L604.14,450.21 L605.14,450.22 L606.14,450.24 L607.14,450.25 L608.14,450.26 L609.14,450.27 L610.15,450.27 L611.15,450.28 L612.15,450.28 L613.15,450.29 L614.15,450.29 L615.15,450.29 L616.15,450.29 L617.15,450.29 L618.15,450.28 L619.16,450.28 L620.16,450.28 L621.16,450.27 L622.16,450.27 L623.16,450.26 L624.16,450.26 L625.16,450.26 L626.17,450.25 L627.17,450.24 L628.17,450.24 L629.17,450.24 L630.17,450.23 L631.17,450.23 L632.17,450.22 L633.18,450.22 L634.18,450.22 L635.18,450.22 L636.18,450.22 L637.18,450.22 L638.18,450.22 L639.18,450.22 L640.18,450.23 L641.19,450.23 L642.19,450.24 L643.19,450.25 L644.19,450.26 L645.19,450.27 L646.19,450.28 L647.19,450.30 L648.20,450.31 L649.20,450.33 L650.20,450.36 L651.20,450.38" stroke="#7a0000" stroke-width="3.2"/>
<path d="M101.53,568.01 L102.53,567.91 L103.52,567.82 L104.52,567.72 L105.52,567.64 L106.52,567.55 L107.52,567.47 L108.52,567.39 L109.52,567.31 L110.51,567.24 L111.51,567.16 L112.51,567.09 L113.51,567.03 L114.51,566.96 L115.51,566.90 L116.51,566.84 L117.51,566.78 L118.51,566.73 L119.51,566.67 L120.51,566.62 L121.51,566.57 L122.51,566.53 L123.52,566.48 L124.52,566.44 L125.52,566.40 L126.52,566.36 L127.52,566.32 L128.52,566.29 L129.52,566.25 L130.52,566.22 L131.53,566.19 L132.53,566.17 L133.53,566.14 L134.53,566.11 L135.53,566.09 L136.53,566.07 L137.54,566.05 L138.54,566.03 L139.54,566.01 L140.54,565.99 L141.55,565.98 L142.55,565.96 L143.55,565.95 L144.55,565.94 L145.56,565.93 L146.56,565.92 L147.56,565.91 L148.56,565.90 L149.57,565.90 L150.57,565.89 L151.57,565.88 L152.58,565.88 L153.58,565.88 L154.58,565.87 L155.58,565.87 L156.59,565.87 L157.59,565.87 L158.59,565.87 L159.60,565.87 L160.60,565.87 L161.60,565.87 L162.61,565.87 L163.61,565.87 L164.61,565.87 L165.61,565.87 L166.62,565.87 L167.62,565.87 L168.62,565.87 L169.63,565.88 L170.63,565.88 L171.63,565.88 L172.64,565.88 L173.64,565.88 L174.64,565.88 L175.64,565.88 L176.65,565.88 L177.65,565.88 L178.65,565.88 L179.65,565.88 L180.66,565.88 L181.66,565.88 L182.66,565.87 L183.66,565.87 L184.67,565.87 L185.67,565.86 L186.67,565.86 L187.67,565.85 L188.67,565.84 L189.68,565.84 L190.68,565.83 L191.68,565.82 L192.68,565.81 L193.68,565.80 L194.68,565.78 L195.68,565.77 L196.69,565.75 L197.69,565.74 L198.69,565.72 L199.69,565.70 L200.69,565.68 L201.69,565.66 L202.69,565.63 L203.69,565.61 L204.69,565.58 L205.69,565.55 L206.69,565.52 L207.69,565.49 L208.69,565.46 L209.69,565.42 L210.69,565.39 L211.69,565.35 L212.69,565.31 L213.69,565.26 L214.68,565.22 L215.68,565.17 L216.68,565.12 L217.68,565.07 L218.68,565.02 L219.68,564.96 L220.67,564.91 L221.67,564.85 L222.67,564.78 L223.67,564.72 L224.66,564.65 L225.66,564.58 L226.66,564.51 L227.65,564.43 L228.65,564.36 L229.64,564.28 L230.64,564.19 L231.64,564.11 L232.63,564.02 L233.63,563.93 L234.62,563.83 L235.62,563.74 L236.61,563.64 L237.60,563.53 L238.60,563.43 L239.59,563.32 L240.59,563.20 L241.58,563.09 L242.57,562.97 L243.56,562.85 L244.56,562.72 L245.55,562.59 L246.54,562.46 L247.53,562.32 L248.52,562.18 L249.52,562.04 L250.51,561.89 L251.50,561.74 L252.49,561.59 L253.48,561.43 L254.47,561.27 L255.46,561.10 L256.45,560.94 L257.44,560.76 L258.42,560.58 L259.41,560.40 L260.40,560.22 L261.39,560.03 L262.37,559.84 L263.36,559.64 L264.35,559.44 L265.33,559.23 L266.31,559.03 L267.30,558.81 L268.28,558.60 L269.26,558.37 L270.24,558.15 L271.22,557.92 L272.20,557.69 L273.18,557.45 L274.16,557.21 L275.13,556.96 L276.11,556.72 L277.08,556.46 L278.05,556.20 L279.03,555.94 L280.00,555.68 L280.97,555.41 L281.93,555.13 L282.90,554.85 L283.86,554.57 L284.83,554.28 L285.79,553.99 L286.75,553.70 L287.71,553.40 L288.67,553.09 L289.62,552.78 L290.58,552.47 L291.53,552.15 L292.48,551.83 L293.43,551.51 L294.38,551.18 L295.32,550.84 L296.27,550.50 L297.21,550.16 L298.15,549.81 L299.08,549.46 L300.02,549.10 L300.95,548.74 L301.88,548.38 L302.81,548.01 L303.74,547.63 L304.67,547.26 L305.59,546.87 L306.51,546.49 L307.43,546.09 L308.34,545.70 L309.25,545.29 L310.16,544.89 L311.07,544.48 L311.98,544.06 L312.88,543.64 L313.78,543.22 L314.68,542.79 L315.57,542.36 L316.47,541.92 L317.35,541.48 L318.24,541.03 L319.12,540.58 L320.01,540.12 L320.88,539.66 L321.76,539.19 L322.63,538.72 L323.50,538.24 L324.36,537.76 L325.23,537.28 L326.09,536.79 L326.94,536.29 L327.80,535.79 L328.65,535.29 L329.49,534.78 L330.34,534.26 L331.18,533.74 L332.02,533.22 L332.85,532.69 L333.69,532.16 L334.52,531.62 L335.35,531.07 L336.17,530.52 L336.99,529.97 L337.81,529.41 L338.63,528.85 L339.45,528.28 L340.26,527.70 L341.08,527.13 L341.89,526.54 L342.69,525.95 L343.50,525.36 L344.30,524.76 L345.11,524.15 L345.91,523.54 L346.70,522.93 L347.50,522.31 L348.30,521.68 L349.09,521.05 L349.88,520.42 L350.67,519.78 L351.46,519.13 L352.25,518.48 L353.04,517.82 L353.83,517.16 L354.61,516.49 L355.40,515.82 L356.18,515.14 L356.96,514.46 L357.74,513.78 L358.53,513.09 L359.31,512.41 L360.09,511.72 L360.88,511.04 L361.66,510.36 L362.45,509.68 L363.24,509.01 L364.03,508.34 L364.83,507.68 L365.63,507.03 L366.43,506.39 L367.23,505.75 L368.04,505.13 L368.85,504.52 L369.67,503.93 L370.49,503.34 L371.32,502.78 L372.16,502.23 L373.00,501.70 L373.84,501.18 L374.69,500.69 L375.55,500.22 L376.42,499.77 L377.29,499.34 L378.17,498.93 L379.06,498.56 L379.96,498.20 L380.87,497.88 L381.78,497.58 L382.71,497.31 L383.64,497.07 L384.57,496.87 L385.51,496.69 L386.46,496.55 L387.41,496.43 L388.36,496.35 L389.30,496.31 L390.25,496.30 L391.20,496.33 L392.14,496.39 L393.08,496.49 L394.02,496.62 L394.94,496.80 L395.86,497.01 L396.77,497.27 L397.67,497.56 L398.56,497.89 L399.45,498.26 L400.32,498.67 L401.18,499.11 L402.03,499.58 L402.87,500.08 L403.70,500.61 L404.53,501.17 L405.34,501.75 L406.15,502.35 L406.94,502.98 L407.73,503.62 L408.51,504.28 L409.27,504.95 L410.03,505.64 L410.78,506.34 L411.53,507.05 L412.26,507.77 L412.99,508.49 L413.70,509.23 L414.41,509.96 L415.12,510.70 L415.82,511.45 L416.51,512.20 L417.20,512.95 L417.88,513.71 L418.56,514.47 L419.24,515.23 L419.92,515.99 L420.59,516.75 L421.26,517.51 L421.93,518.27 L422.60,519.02 L423.27,519.78 L423.94,520.53 L424.61,521.28 L425.29,522.03 L425.97,522.77 L426.65,523.51 L427.33,524.24 L428.02,524.97 L428.71,525.68 L429.41,526.39 L430.11,527.10 L430.82,527.79 L431.54,528.48 L432.26,529.15 L432.99,529.82 L433.73,530.48 L434.48,531.12 L435.24,531.75 L436.01,532.37 L436.79,532.98 L437.58,533.57 L438.38,534.16 L439.18,534.74 L440.00,535.30 L440.82,535.85 L441.65,536.40 L442.48,536.93 L443.33,537.46 L444.18,537.98 L445.03,538.49 L445.90,538.99 L446.77,539.48 L447.64,539.96 L448.52,540.44 L449.41,540.91 L450.30,541.37 L451.20,541.83 L452.10,542.28 L453.00,542.72 L453.91,543.16 L454.82,543.59 L455.74,544.02 L456.65,544.44 L457.58,544.86 L458.50,545.27 L459.43,545.68 L460.35,546.08 L461.28,546.49 L462.22,546.89 L463.15,547.28 L464.08,547.68 L465.01,548.07 L465.95,548.46 L466.88,548.85 L467.82,549.23 L468.75,549.62 L469.69,550.00 L470.62,550.38 L471.56,550.76 L472.49,551.13 L473.43,551.50 L474.37,551.87 L475.30,552.23 L476.24,552.59 L477.18,552.94 L478.12,553.29 L479.06,553.64 L480.00,553.98 L480.94,554.31 L481.88,554.64 L482.83,554.96 L483.77,555.28 L484.72,555.59 L485.67,555.89 L486.61,556.19 L487.57,556.48 L488.52,556.76 L489.47,557.03 L490.43,557.29 L491.38,557.55 L492.34,557.79 L493.30,558.03 L494.26,558.26 L495.23,558.48 L496.19,558.69 L497.16,558.88 L498.13,559.07 L499.11,559.25 L500.08,559.41 L501.06,559.57 L502.04,559.71 L503.02,559.85 L504.00,559.97 L504.99,560.08 L505.98,560.19 L506.97,560.28 L507.96,560.37 L508.95,560.45 L509.95,560.52 L510.94,560.58 L511.94,560.64 L512.94,560.68 L513.94,560.72 L514.94,560.76 L515.95,560.79 L516.95,560.81 L517.95,560.83 L518.96,560.84 L519.97,560.85 L520.97,560.85 L521.98,560.85 L522.99,560.85 L524.00,560.84 L525.01,560.83 L526.02,560.81 L527.03,560.80 L528.04,560.78 L529.05,560.76 L530.06,560.74 L531.07,560.71 L532.08,560.69 L533.09,560.67 L534.10,560.64 L535.11,560.62 L536.12,560.59 L537.13,560.57 L538.14,560.55 L539.15,560.53 L540.15,560.51 L541.16,560.50 L542.16,560.48 L543.17,560.47 L544.17,560.46 L545.18,560.45 L546.18,560.44 L547.18,560.43 L548.19,560.42 L549.19,560.42 L550.19,560.41 L551.19,560.41 L552.19,560.41 L553.19,560.41 L554.19,560.41 L555.19,560.42 L556.19,560.42 L557.19,560.43 L558.19,560.44 L559.19,560.44 L560.19,560.45 L561.18,560.46 L562.18,560.48 L563.18,560.49 L564.18,560.50 L565.18,560.52 L566.17,560.54 L567.17,560.56 L568.17,560.57 L569.17,560.60 L570.16,560.62 L571.16,560.64 L572.16,560.66 L573.16,560.69 L574.15,560.71 L575.15,560.74 L576.15,560.77 L577.15,560.80 L578.15,560.83 L579.14,560.86 L580.14,560.89 L581.14,560.92 L582.14,560.95 L583.14,560.99 L584.14,561.02 L585.14,561.06 L586.14,561.09 L587.14,561.13 L588.14,561.16 L589.14,561.20 L590.14,561.24 L591.14,561.27 L592.14,561.31 L593.14,561.35 L594.14,561.38 L595.14,561.42 L596.14,561.46 L597.14,561.50 L598.14,561.53 L599.14,561.57 L600.14,561.61 L601.14,561.64 L602.14,561.68 L603.14,561.71 L604.14,561.75 L605.15,561.78 L606.15,561.81 L607.15,561.85 L608.15,561.88 L609.15,561.91 L610.15,561.94 L611.15,561.97 L612.16,562.00 L613.16,562.03 L614.16,562.05 L615.16,562.08 L616.16,562.10 L617.16,562.12 L618.16,562.15 L619.17,562.17 L620.17,562.18 L621.17,562.20 L622.17,562.22 L623.17,562.23 L624.17,562.24 L625.18,562.25 L626.18,562.26 L627.18,562.27 L628.18,562.28 L629.18,562.28 L630.18,562.28 L631.18,562.28 L632.18,562.28 L633.19,562.27 L634.19,562.27 L635.19,562.26 L636.19,562.25 L637.19,562.23 L638.19,562.22 L639.19,562.20 L640.19,562.18 L641.19,562.15 L642.19,562.13 L643.19,562.10 L644.19,562.06 L645.19,562.03 L646.19,561.99 L647.19,561.95 L648.19,561.91 L649.19,561.86 L650.19,561.81 L651.19,561.76" stroke="#ee7a14" stroke-width="3.2"/>
<g clip-path="url(#hc)" stroke="#000" stroke-width="1.3"><line x1="226.6" y1="792.5" x2="315.7" y2="697.1"/><line x1="242.0" y1="792.5" x2="315.7" y2="713.6"/><line x1="257.4" y1="792.5" x2="315.7" y2="730.1"/><line x1="273.3" y1="792.5" x2="315.7" y2="747.1"/><line x1="287.8" y1="792.5" x2="315.7" y2="762.6"/><line x1="317.0" y1="679.7" x2="277.1" y2="716.5"/><line x1="314.4" y1="669.2" x2="290.9" y2="688.6"/></g>
<path d="M205,781.8 L310.7,781.8 L310.7,646.5" stroke="#000" stroke-width="2" stroke-linecap="butt" stroke-linejoin="miter"/>
<path d="M101.53,788.45 L102.52,788.37 L103.52,788.29 L104.51,788.22 L105.51,788.15 L106.51,788.08 L107.50,788.02 L108.50,787.95 L109.50,787.89 L110.50,787.83 L111.50,787.77 L112.50,787.72 L113.50,787.66 L114.50,787.61 L115.50,787.56 L116.50,787.51 L117.50,787.47 L118.50,787.42 L119.50,787.38 L120.50,787.33 L121.50,787.29 L122.50,787.25 L123.50,787.21 L124.51,787.17 L125.51,787.14 L126.51,787.10 L127.51,787.06 L128.51,787.03 L129.52,786.99 L130.52,786.96 L131.52,786.92 L132.52,786.89 L133.53,786.85 L134.53,786.82 L135.53,786.79 L136.54,786.75 L137.54,786.72 L138.54,786.68 L139.54,786.65 L140.55,786.62 L141.55,786.58 L142.55,786.55 L143.56,786.51 L144.56,786.47 L145.56,786.44 L146.56,786.40 L147.56,786.36 L148.57,786.32 L149.57,786.28 L150.57,786.24 L151.57,786.19 L152.57,786.15 L153.57,786.10 L154.57,786.05 L155.58,786.00 L156.58,785.95 L157.58,785.90 L158.58,785.85 L159.58,785.79 L160.57,785.73 L161.57,785.67 L162.57,785.61 L163.57,785.55 L164.57,785.49 L165.57,785.42 L166.57,785.35 L167.56,785.28 L168.56,785.21 L169.56,785.14 L170.56,785.07 L171.55,784.99 L172.55,784.91 L173.55,784.83 L174.54,784.75 L175.54,784.67 L176.54,784.59 L177.53,784.50 L178.53,784.41 L179.53,784.33 L180.52,784.24 L181.52,784.15 L182.51,784.05 L183.51,783.96 L184.51,783.86 L185.50,783.77 L186.50,783.67 L187.49,783.57 L188.49,783.47 L189.49,783.36 L190.48,783.26 L191.48,783.15 L192.47,783.05 L193.47,782.94 L194.47,782.83 L195.46,782.72 L196.46,782.60 L197.45,782.49 L198.45,782.37 L199.45,782.26 L200.44,782.14 L201.44,782.02 L202.44,781.90 L203.43,781.78 L204.43,781.66 L205.43,781.53 L206.43,781.41 L207.42,781.28 L208.42,781.15 L209.42,781.02 L210.42,780.89 L211.42,780.76 L212.41,780.63 L213.41,780.49 L214.41,780.35 L215.40,780.21 L216.40,780.06 L217.39,779.90 L218.38,779.74 L219.37,779.58 L220.36,779.40 L221.34,779.22 L222.32,779.03 L223.30,778.82 L224.28,778.61 L225.25,778.39 L226.21,778.15 L227.18,777.91 L228.14,777.65 L229.09,777.37 L230.04,777.09 L230.98,776.78 L231.92,776.47 L232.85,776.13 L233.78,775.78 L234.70,775.41 L235.61,775.02 L236.51,774.62 L237.41,774.19 L238.30,773.75 L239.19,773.29 L240.07,772.82 L240.94,772.33 L241.80,771.83 L242.66,771.31 L243.50,770.77 L244.34,770.23 L245.17,769.66 L246.00,769.09 L246.81,768.50 L247.62,767.90 L248.42,767.29 L249.21,766.67 L249.99,766.04 L250.76,765.40 L251.53,764.74 L252.28,764.08 L253.03,763.41 L253.77,762.73 L254.49,762.04 L255.21,761.35 L255.92,760.65 L256.62,759.94 L257.31,759.22 L258.00,758.49 L258.67,757.76 L259.34,757.02 L260.00,756.27 L260.65,755.52 L261.29,754.76 L261.92,754.00 L262.55,753.22 L263.17,752.45 L263.78,751.66 L264.38,750.87 L264.98,750.07 L265.57,749.27 L266.15,748.46 L266.72,747.65 L267.29,746.83 L267.85,746.01 L268.41,745.18 L268.96,744.35 L269.50,743.51 L270.04,742.67 L270.57,741.82 L271.10,740.97 L271.61,740.12 L272.13,739.26 L272.64,738.40 L273.14,737.53 L273.64,736.66 L274.13,735.79 L274.62,734.91 L275.10,734.03 L275.58,733.15 L276.05,732.26 L276.52,731.37 L276.99,730.48 L277.45,729.59 L277.90,728.69 L278.36,727.79 L278.80,726.89 L279.25,725.99 L279.69,725.09 L280.13,724.18 L280.56,723.27 L280.99,722.37 L281.42,721.46 L281.85,720.55 L282.27,719.63 L282.69,718.72 L283.11,717.81 L283.52,716.89 L283.94,715.98 L284.34,715.06 L284.75,714.15 L285.16,713.23 L285.56,712.31 L285.96,711.39 L286.36,710.47 L286.75,709.55 L287.14,708.63 L287.54,707.71 L287.92,706.79 L288.31,705.87 L288.70,704.94 L289.08,704.02 L289.46,703.10 L289.84,702.17 L290.21,701.25 L290.59,700.32 L290.96,699.39 L291.33,698.47 L291.70,697.54 L292.07,696.61 L292.44,695.68 L292.80,694.75 L293.16,693.82 L293.53,692.89 L293.89,691.96 L294.24,691.03 L294.60,690.10 L294.96,689.17 L295.31,688.24 L295.67,687.31 L296.02,686.38 L296.37,685.44 L296.72,684.51 L297.07,683.58 L297.41,682.64 L297.76,681.71 L298.11,680.78 L298.45,679.84 L298.80,678.91 L299.14,677.97 L299.48,677.04 L299.82,676.10 L300.16,675.17 L300.51,674.24 L300.84,673.30 L301.18,672.37 L301.52,671.43 L301.86,670.50 L302.20,669.56 L302.53,668.62 L302.87,667.69 L303.20,666.75 L303.53,665.81 L303.87,664.88 L304.19,663.94 L304.52,663.00 L304.85,662.06 L305.17,661.12 L305.49,660.17 L305.81,659.23 L306.12,658.28 L306.43,657.34 L306.74,656.39 L307.05,655.44 L307.35,654.49 L307.65,653.54 L307.95,652.58 L308.24,651.62 L308.53,650.66 L308.81,649.70 L309.09,648.74 L309.37,647.77 L309.64,646.81 L309.90,645.84 L310.16,644.86 L310.42,643.89 L310.68,642.91 L310.93,641.94 L311.18,640.96 L311.43,639.98 L311.68,639.00 L311.93,638.02 L312.17,637.04 L312.42,636.07 L312.66,635.09 L312.91,634.11 L313.16,633.14 L313.41,632.16 L313.66,631.19 L313.91,630.22 L314.17,629.25 L314.43,628.28 L314.69,627.32 L314.96,626.36 L315.23,625.40 L315.51,624.44 L315.79,623.49 L316.08,622.55 L316.37,621.60 L316.67,620.67 L316.97,619.73 L317.28,618.80 L317.60,617.87 L317.92,616.94 L318.25,616.01 L318.58,615.09 L318.91,614.17 L319.25,613.24 L319.60,612.32 L319.95,611.40 L320.30,610.47 L320.66,609.55 L321.02,608.62 L321.38,607.69 L321.75,606.76 L322.12,605.82 L322.49,604.89 L322.86,603.94 L323.24,603.00 L323.62,602.05 L324.01,601.09 L324.39,600.13 L324.78,599.17 L325.16,598.19 L325.55,597.22 L325.95,596.24 L326.36,595.27 L326.78,594.32 L327.23,593.39 L327.69,592.48 L328.19,591.61 L328.72,590.78 L329.29,590.00 L329.89,589.28 L330.55,588.61 L331.25,588.02 L332.00,587.50 L332.77,587.12 L333.53,586.90 L334.25,586.88 L334.90,587.12 L335.47,587.62 L335.97,588.33 L336.41,589.18 L336.80,590.10 L337.17,591.03 L337.50,591.97 L337.81,592.92 L338.10,593.88 L338.36,594.84 L338.60,595.81 L338.82,596.78 L339.02,597.76 L339.21,598.75 L339.37,599.74 L339.52,600.73 L339.66,601.72 L339.79,602.72 L339.91,603.73 L340.01,604.73 L340.11,605.74 L340.21,606.75 L340.30,607.75 L340.38,608.76 L340.47,609.77 L340.55,610.78 L340.64,611.79 L340.73,612.80 L340.82,613.81 L340.92,614.82 L341.02,615.82 L341.13,616.82 L341.25,617.82 L341.37,618.82 L341.50,619.81 L341.64,620.81 L341.77,621.80 L341.92,622.79 L342.06,623.78 L342.21,624.77 L342.36,625.76 L342.51,626.75 L342.66,627.74 L342.82,628.72 L342.97,629.71 L343.13,630.69 L343.28,631.68 L343.44,632.66 L343.59,633.65 L343.74,634.64 L343.88,635.62 L344.03,636.61 L344.17,637.59 L344.31,638.58 L344.44,639.57 L344.57,640.56 L344.69,641.55 L344.81,642.54 L344.93,643.53 L345.05,644.52 L345.16,645.52 L345.27,646.51 L345.37,647.50 L345.47,648.50 L345.57,649.49 L345.66,650.49 L345.76,651.48 L345.85,652.48 L345.93,653.47 L346.02,654.47 L346.10,655.47 L346.18,656.47 L346.25,657.46 L346.33,658.46 L346.40,659.46 L346.47,660.46 L346.53,661.46 L346.60,662.46 L346.66,663.46 L346.72,664.46 L346.78,665.47 L346.84,666.47 L346.90,667.47 L346.95,668.47 L347.00,669.47 L347.06,670.48 L347.11,671.48 L347.15,672.48 L347.20,673.48 L347.25,674.49 L347.29,675.49 L347.34,676.50 L347.38,677.50 L347.43,678.50 L347.47,679.51 L347.51,680.51 L347.55,681.51 L347.59,682.52 L347.63,683.52 L347.67,684.53 L347.71,685.53 L347.75,686.54 L347.79,687.54 L347.83,688.54 L347.87,689.55 L347.91,690.55 L347.95,691.56 L347.99,692.56 L348.03,693.56 L348.07,694.57 L348.11,695.57 L348.15,696.57 L348.20,697.58 L348.24,698.58 L348.28,699.58 L348.33,700.58 L348.38,701.59 L348.42,702.59 L348.47,703.59 L348.52,704.59 L348.57,705.59 L348.63,706.59 L348.68,707.59 L348.74,708.59 L348.80,709.59 L348.86,710.59 L348.92,711.59 L348.98,712.59 L349.05,713.59 L349.11,714.58 L349.18,715.58 L349.25,716.58 L349.33,717.57 L349.41,718.57 L349.48,719.56 L349.57,720.56 L349.65,721.55 L349.74,722.55 L349.83,723.54 L349.92,724.53 L350.01,725.52 L350.11,726.51 L350.21,727.51 L350.32,728.49 L350.43,729.48 L350.54,730.47 L350.65,731.46 L350.77,732.45 L350.89,733.43 L351.02,734.42 L351.15,735.40 L351.28,736.39 L351.42,737.37 L351.56,738.35 L351.71,739.34 L351.85,740.32 L352.01,741.30 L352.16,742.28 L352.33,743.26 L352.49,744.24 L352.66,745.22 L352.83,746.20 L353.01,747.18 L353.19,748.16 L353.38,749.15 L353.57,750.13 L353.76,751.11 L353.96,752.10 L354.16,753.09 L354.37,754.07 L354.58,755.06 L354.80,756.05 L355.02,757.05 L355.24,758.04 L355.47,759.04 L355.70,760.04 L355.94,761.04 L356.18,762.04 L356.42,763.05 L356.67,764.06 L356.93,765.07 L357.19,766.08 L357.46,767.10 L357.74,768.10 L358.03,769.09 L358.35,770.07 L358.69,771.02 L359.07,771.94 L359.47,772.82 L359.92,773.67 L360.40,774.48 L360.94,775.23 L361.52,775.93 L362.16,776.56 L362.85,777.14 L363.60,777.65 L364.41,778.10 L365.25,778.50 L366.14,778.85 L367.06,779.16 L368.02,779.43 L368.99,779.66 L370.00,779.86 L371.01,780.04 L372.04,780.20 L373.07,780.35 L374.11,780.48 L375.14,780.61 L376.17,780.73 L377.20,780.85 L378.22,780.96 L379.24,781.07 L380.26,781.17 L381.27,781.27 L382.28,781.36 L383.28,781.45 L384.29,781.54 L385.29,781.62 L386.29,781.70 L387.29,781.78 L388.29,781.85 L389.28,781.92 L390.28,781.99 L391.27,782.06 L392.26,782.12 L393.25,782.18 L394.24,782.24 L395.23,782.29 L396.22,782.35 L397.21,782.40 L398.21,782.45 L399.20,782.50 L400.19,782.55 L401.18,782.60 L402.17,782.64 L403.17,782.69 L404.16,782.73 L405.16,782.77 L406.16,782.82 L407.15,782.86 L408.15,782.90 L409.15,782.94 L410.15,782.98 L411.15,783.01 L412.15,783.05 L413.15,783.09 L414.15,783.13 L415.15,783.16 L416.15,783.20 L417.15,783.24 L418.15,783.27 L419.15,783.31 L420.16,783.34 L421.16,783.37 L422.16,783.41 L423.16,783.44 L424.17,783.48 L425.17,783.51 L426.17,783.55 L427.18,783.58 L428.18,783.62 L429.18,783.65 L430.18,783.69 L431.19,783.72 L432.19,783.76 L433.19,783.79 L434.19,783.83 L435.20,783.86 L436.20,783.90 L437.20,783.93 L438.20,783.97 L439.21,784.01 L440.21,784.04 L441.21,784.08 L442.21,784.12 L443.22,784.15 L444.22,784.19 L445.22,784.23 L446.22,784.26 L447.23,784.30 L448.23,784.34 L449.23,784.38 L450.23,784.42 L451.23,784.45 L452.24,784.49 L453.24,784.53 L454.24,784.57 L455.24,784.61 L456.24,784.65 L457.25,784.69 L458.25,784.73 L459.25,784.77 L460.25,784.80 L461.25,784.84 L462.25,784.88 L463.26,784.93 L464.26,784.97 L465.26,785.01 L466.26,785.05 L467.26,785.09 L468.26,785.13 L469.27,785.17 L470.27,785.21 L471.27,785.25 L472.27,785.30 L473.27,785.34 L474.27,785.38 L475.27,785.42 L476.28,785.47 L477.28,785.51 L478.28,785.55 L479.28,785.60 L480.28,785.64 L481.28,785.68 L482.28,785.73 L483.28,785.77 L484.29,785.82 L485.29,785.86 L486.29,785.91 L487.29,785.95 L488.29,786.00 L489.29,786.04 L490.29,786.09 L491.29,786.13 L492.29,786.18 L493.29,786.23 L494.30,786.27 L495.30,786.32 L496.30,786.37 L497.30,786.41 L498.30,786.46 L499.30,786.51 L500.30,786.56 L501.30,786.61 L502.30,786.65 L503.30,786.70 L504.30,786.75 L505.30,786.80 L506.30,786.85 L507.30,786.90 L508.30,786.95 L509.31,787.00 L510.31,787.05 L511.31,787.10 L512.31,787.15 L513.31,787.20 L514.31,787.26 L515.31,787.31 L516.31,787.36 L517.31,787.41 L518.31,787.46 L519.31,787.52 L520.31,787.57 L521.31,787.62 L522.31,787.68 L523.31,787.73 L524.31,787.78 L525.31,787.84 L526.31,787.89 L527.31,787.95 L528.31,788.00 L529.31,788.06 L530.31,788.11 L531.31,788.17 L532.31,788.23 L533.31,788.28 L534.31,788.34 L535.31,788.40 L536.31,788.45 L537.31,788.51 L538.31,788.57 L539.31,788.63 L540.31,788.69 L541.31,788.75 L542.31,788.81 L543.31,788.86 L544.31,788.92 L545.31,788.98 L546.31,789.04 L547.31,789.11 L548.31,789.17 L549.31,789.23 L550.31,789.29 L551.30,789.35 L552.30,789.41 L553.30,789.48 L554.30,789.54 L555.30,789.60 L556.30,789.66 L557.30,789.73 L558.30,789.79 L559.30,789.86 L560.30,789.92 L561.30,789.99 L562.30,790.05 L563.30,790.12 L564.30,790.18 L565.30,790.25 L566.30,790.32 L567.30,790.38 L568.30,790.45 L569.29,790.52 L570.29,790.59 L571.29,790.65 L572.29,790.72 L573.29,790.79 L574.29,790.86 L575.29,790.93 L576.29,791.00 L577.29,791.07 L578.29,791.14 L579.29,791.21 L580.29,791.28 L581.28,791.35 L582.28,791.43 L583.28,791.50 L584.28,791.57 L585.28,791.64 L586.28,791.72 L587.28,791.79 L588.28,791.87 L589.28,791.94 L590.28,792.01 L591.28,792.09 L592.27,792.17 L593.27,792.24 L594.27,792.32 L595.27,792.39 L596.27,792.47 L597.27,792.55 L598.27,792.63 L599.27,792.70 L600.27,792.78 L601.26,792.86 L602.26,792.94 L603.26,793.02 L604.26,793.10 L605.26,793.18 L606.26,793.26 L607.26,793.34 L608.26,793.42 L609.25,793.51 L610.25,793.59 L611.25,793.67 L612.25,793.75 L613.25,793.84 L614.25,793.92 L615.25,794.00 L616.25,794.09 L617.24,794.17 L618.24,794.26 L619.24,794.35 L620.24,794.43 L621.24,794.52 L622.24,794.61 L623.24,794.69 L624.23,794.78 L625.23,794.87 L626.23,794.96 L627.23,795.05 L628.23,795.14 L629.23,795.23 L630.23,795.32 L631.22,795.41 L632.22,795.50 L633.22,795.59 L634.22,795.68 L635.22,795.77 L636.22,795.87 L637.22,795.96 L638.21,796.05 L639.21,796.15 L640.21,796.24 L641.21,796.34 L642.21,796.43 L643.21,796.53 L644.21,796.62 L645.20,796.72 L646.20,796.82 L647.20,796.91 L648.20,797.01 L649.20,797.11 L650.20,797.21 L651.19,797.31" stroke="#000" stroke-width="3.2"/>
</g>
<g stroke="#000" stroke-width="3" fill="none" stroke-linecap="butt">
<path d="M101.5,4.2 H651.2 V862.5 H101.5 Z" stroke-linejoin="round"/>
<path stroke-linecap="round" d="M101.5,862.5 V879.7 M284.7,862.5 V879.7 M468.0,862.5 V879.7 M651.2,862.5 V879.7"/>
<path stroke-linecap="round" d="M193.1,862.5 V871.2 M376.4,862.5 V871.2 M559.6,862.5 V871.2"/>
</g>
<g font-size="28.8">
<text transform="translate(109.5,86.6) scale(0.995,1.04)">Nb2</text>
<text transform="translate(109.1,225.6) scale(0.99,1.04)">Nb1</text>
<text transform="translate(109.1,400.7) scale(0.99,1.04)">Nb0.1</text>
<text transform="translate(109.1,531.4) scale(0.99,1.04)">Ta1</text>
<text transform="translate(108.6,762.9) scale(1,1.04)">A</text>
<text transform="translate(204.7,815.5) scale(0.99,1.06)">x = 0.4</text>
</g>
<g text-anchor="middle" font-size="30">
<text transform="translate(101.5,914.7) scale(0.985,1.05)">550</text>
<text transform="translate(284.7,914.7) scale(0.985,1.05)">650</text>
<text transform="translate(468.0,914.7) scale(0.985,1.05)">750</text>
<text transform="translate(651.2,914.7) scale(0.985,1.05)">850</text>
</g>
<text x="328" y="974.1" font-size="38">T [°C]</text>
<text transform="translate(28.8,519) rotate(-90)" x="0" y="0" font-size="37.8">DTA [a. u.]</text>
</svg>
</body></html>
